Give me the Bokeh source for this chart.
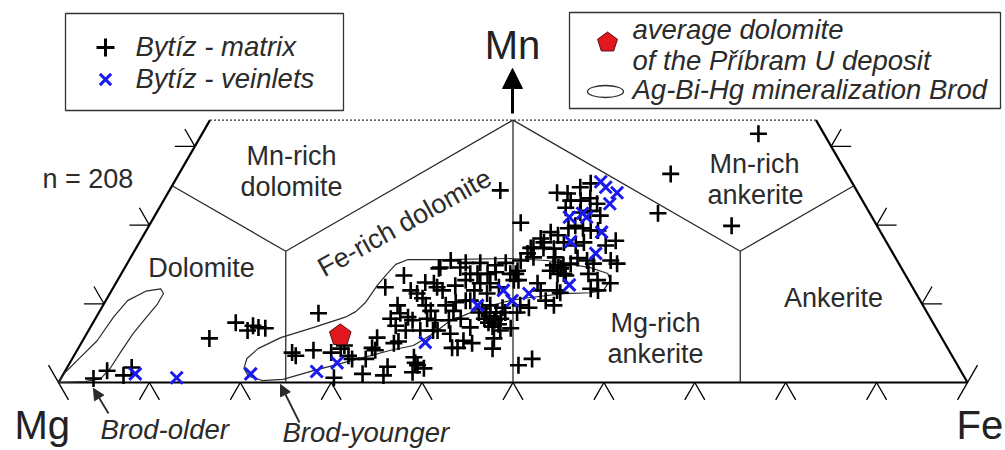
import math
from bokeh.plotting import figure
from bokeh.models import Range1d, Arrow, NormalHead
from bokeh.core.properties import value
from bokeh.embed import file_html
from bokeh.resources import INLINE

# ---------------- data (mol. % Fe and Mn; Mg = 100 - Fe - Mn) ----------------
matrix_fe = [3.6, 4.6, 6.7, 7.1, 13.8, 15.7, 17.5, 17.8, 18.5, 19.3,
             24.2, 23.8, 24.4, 26.0, 28.1, 28.9, 29.1, 30.2, 30.8, 30.0,
             32.9, 32.3, 32.2, 32.8, 35.3, 35.2, 34.8, 29.9, 31.2, 32.4,
             34.3, 35.0, 32.5, 33.2, 33.8, 34.7, 34.0, 36.5, 37.5, 35.6,
             34.6, 37.5, 38.0, 38.4, 39.3, 37.9, 38.3, 34.4, 34.7, 36.9,
             35.0, 36.4, 38.6, 38.9, 38.4, 40.0, 41.1, 41.9, 41.8, 43.0,
             45.1, 45.6, 45.3, 46.3, 41.7, 38.4, 39.2, 40.3, 41.1, 40.1,
             41.2, 42.4, 42.8, 41.5, 44.1, 41.9, 42.6, 43.3, 44.0, 43.5,
             43.7, 42.8, 44.2, 44.6, 41.8, 44.7, 42.6, 44.7, 35.4, 37.2,
             38.8, 40.6, 41.6, 39.9, 39.6, 37.7, 35.5, 45.9, 47.0, 46.0,
             43.4, 44.8, 43.4, 44.3, 46.7, 47.7, 48.1, 46.4, 49.0, 49.0,
             43.4, 44.1, 43.1, 50.6, 49.5, 40.7, 36.4, 42.8, 44.0, 45.0,
             45.9, 44.8, 45.9, 46.8, 47.9, 44.7, 49.0, 46.9, 47.9, 48.9,
             49.7, 46.3, 52.3, 44.6, 45.6, 43.9, 44.5, 43.7, 46.0, 46.7,
             48.9, 49.2, 50.4, 51.3, 53.0, 53.9, 47.0, 48.0, 48.7, 48.0,
             47.0, 51.4, 48.8, 52.8, 54.4, 52.6, 53.5, 49.5, 43.4, 43.6,
             46.6, 47.6, 51.5, 54.1, 55.2, 61.2, 64.1, 48.4, 49.6, 34.9,
             36.5, 36.4, 39.0, 40.2, 40.1, 37.5, 38.3, 32.9, 33.5, 32.3,
             48.2, 47.2]
matrix_mn = [0.5, 1.5, 0.9, 1.9, 5.6, 7.6, 6.6, 7.2, 7.0, 6.9,
             8.8, 3.8, 3.4, 4.1, 3.8, 4.3, 4.7, 3.4, 3.0, 0.6,
             1.1, 4.4, 5.7, 4.1, 0.9, 2.0, 5.2, 12.1, 13.6, 9.8,
             8.3, 7.9, 8.1, 8.8, 11.3, 10.7, 12.7, 8.1, 7.9, 12.1,
             14.5, 3.2, 2.5, 2.2, 1.8, 6.6, 1.3, 5.0, 14.6, 14.6,
             12.6, 11.7, 10.2, 9.1, 6.6, 6.2, 4.4, 5.3, 7.0, 5.0,
             5.6, 4.3, 6.6, 6.9, 4.4, 13.8, 13.8, 13.8, 14.0, 12.6,
             12.6, 12.1, 13.8, 11.3, 9.5, 9.4, 8.9, 8.4, 7.9, 7.6,
             8.9, 8.1, 7.1, 8.1, 8.9, 7.4, 9.8, 8.9, 15.5, 15.2,
             15.2, 14.9, 15.2, 11.7, 10.4, 9.8, 9.8, 9.8, 9.5, 8.9,
             17.1, 17.1, 16.4, 15.9, 15.9, 14.6, 14.9, 12.6, 11.7, 13.6,
             14.2, 13.0, 15.5, 3.0, 2.2, 20.3, 24.4, 24.1, 24.0, 24.8,
             25.3, 23.1, 23.1, 23.4, 22.7, 22.2, 21.2, 19.9, 19.6, 19.3,
             19.3, 19.6, 18.0, 19.1, 18.7, 18.3, 17.8, 17.1, 17.0, 17.8,
             17.8, 15.8, 15.5, 15.1, 15.5, 15.1, 14.9, 14.5, 13.8, 13.8,
             14.2, 13.8, 15.1, 13.0, 12.6, 11.9, 11.7, 11.4, 13.8, 13.0,
             21.6, 21.8, 17.4, 26.5, 21.5, 31.6, 19.9, 10.4, 9.8, 6.6,
             6.6, 9.1, 7.9, 8.1, 10.4, 12.3, 13.0, 11.7, 7.2, 3.0,
             17.4, 11.7]

veinlet_fe = [7.9, 12.7, 20.6, 27.7, 29.4, 37.8, 41.2, 43.1, 44.7, 46.1, 50.0,
              46.9, 47.8, 49.4, 49.3, 45.7, 46.9, 47.6, 50.2, 47.4, 50.9]
veinlet_mn = [1.1, 0.6, 1.1, 1.4, 2.5, 5.1, 9.8, 11.7, 10.4, 11.3, 12.4,
              25.5, 24.8, 24.1, 22.7, 21.0, 21.5, 21.0, 19.1, 17.9, 16.4]

avg_fe = [28.0]
avg_mn = [6.0]

older_fe = [0.0, 0.1, 0.8, 1.6, 1.9, 2.4, 3.8, 5.3, 5.9, 5.9, 5.5, 5.1, 4.9, 4.8, 4.4, 2.9]
older_mn = [0.0, 1.3, 3.2, 5.3, 8.3, 10.4, 11.6, 11.9, 11.3, 10.0, 8.1, 6.2, 3.8, 1.9, 0.5, 0.1]

younger_fe = [19.5, 20.5, 22.3, 24.5, 27.3, 29.8, 32.0, 34.5, 36.7, 38.1, 39.2, 40.3,
              41.3, 43.3, 44.8, 46.5, 49.9, 52.8, 54.1, 54.2, 53.5, 51.2, 46.0, 41.8,
              34.2, 30.6, 29.6, 29.2, 28.9, 28.7, 28.2, 27.4, 24.6, 21.6, 19.8, 19.2]
younger_mn = [1.8, 0.8, 0.25, 0.4, 1.5, 2.4, 3.2, 4.1, 4.7, 6.2, 7.9, 8.5,
              9.15, 10.0, 10.5, 10.8, 11.3, 11.4, 11.7, 13.0, 13.85, 14.6, 15.5, 15.75,
              15.6, 15.6, 15.0, 13.6, 12.3, 10.2, 9.0, 8.3, 7.0, 5.7, 4.3, 3.05]

# field boundaries (Fe, Mn)
field_fe = [0.0, 100 / 6, 100 / 3, 200 / 3, 75.0]
field_mn = [25.0, 100 / 6, 100 / 3, 100 / 6, 25.0]
drop_fe = [100 / 6, 100 / 3, 200 / 3]
drop_mn = [100 / 6, 100 / 3, 100 / 6]
mn_max = 100 / 3
base_ticks = [10, 20, 30, 40, 50, 60, 70, 80, 90]
side_ticks = [10, 20, 30]

# ---------------- geometry ----------------
H = math.sqrt(3) / 2
K = 9.09          # pixels per composition unit
OX, OY = 58, 382  # pixel position of the Mg corner


def tx(fe, mn):
    return fe + mn / 2.0


def ty(mn):
    return mn * H


def sx(px):
    return (px - OX) / K


def sy(py):
    return (OY - py) / K


p = figure(width=1005, height=450,
           x_range=Range1d(sx(0), sx(1005)), y_range=Range1d(sy(450), sy(0)),
           toolbar_location=None, output_backend="svg",
           x_axis_type=None, y_axis_type=None, min_border=0,
           outline_line_color=None, background_fill_color="white",
           border_fill_color="white")

INK = "#2b2b2b"
FONT = value("Liberation Sans")

# outer frame: bottom, left, right solid; top dotted
p.line([tx(0, 0), tx(100, 0)], [0, 0], line_color="black", line_width=2.2)
p.line([tx(0, 0), tx(0, mn_max)], [0, ty(mn_max)], line_color="black", line_width=2.2)
p.line([tx(100, 0), tx(100 - mn_max, mn_max)], [0, ty(mn_max)], line_color="black", line_width=2.2)
p.line([tx(0, mn_max), tx(100 - mn_max, mn_max)], [ty(mn_max)] * 2,
       line_color="#333333", line_width=1.2, line_dash="2 2")

# field boundaries
p.line([tx(f, m) for f, m in zip(field_fe, field_mn)], [ty(m) for m in field_mn],
       line_color=INK, line_width=1.3)
p.multi_line([[tx(f, m), tx(f, m)] for f, m in zip(drop_fe, drop_mn)],
             [[ty(m), 0] for m in drop_mn], line_color=INK, line_width=1.3)

# ticks
L = 2.2
c60, s60 = 0.5, H
txs, tys = [], []
for t in base_ticks:
    txs += [[t - L * c60, t, t + L * c60]]
    tys += [[-L * s60, 0, -L * s60]]
for t in side_ticks:
    x0, y0 = tx(0, t), ty(t)
    txs += [[x0 - L, x0, x0 - L * c60]]
    tys += [[y0, y0, y0 + L * s60]]
    x1, y1 = tx(100 - t, t), ty(t)
    txs += [[x1 + L, x1, x1 + L * c60]]
    tys += [[y1, y1, y1 + L * s60]]
# corner marks
txs += [[-L * c60, L * c60]]
tys += [[L * s60, -L * s60]]
txs += [[100 + L * c60, 100 - L * c60]]
tys += [[L * s60, -L * s60]]
p.multi_line(txs, tys, line_color="black", line_width=1.3)

# Ag-Bi-Hg mineralization outlines
p.patch([tx(f, m) for f, m in zip(older_fe, older_mn)], [ty(m) for m in older_mn],
        fill_color=None, line_color=INK, line_width=1.2)
p.patch([tx(f, m) for f, m in zip(younger_fe, younger_mn)], [ty(m) for m in younger_mn],
        fill_color=None, line_color=INK, line_width=1.2)

# data points
p.scatter([tx(f, m) for f, m in zip(matrix_fe, matrix_mn)], [ty(m) for m in matrix_mn],
          marker="cross", size=17, line_width=2.6, line_color="black")
p.scatter([tx(f, m) for f, m in zip(veinlet_fe, veinlet_mn)], [ty(m) for m in veinlet_mn],
          marker="x", size=17, line_width=3, line_color="#1a1aee")


def pentagon(cx, cy, r):
    xs = [cx + r * math.cos(math.radians(90 + 72 * k)) for k in range(5)]
    ys = [cy + r * math.sin(math.radians(90 + 72 * k)) for k in range(5)]
    return xs, ys


px_, py_ = pentagon(tx(avg_fe[0], avg_mn[0]), ty(avg_mn[0]), 1.25)
p.patch(px_, py_, fill_color="#e3171e", line_color="#5a1010", line_width=1)


# ---------------- texts ----------------
def label(x_px, y_px, s, size, style="normal", align="center", angle=0.0, color=INK):
    # y_px is the wanted baseline; the renderer puts the alphabetic baseline ~0.4 em lower
    p.text([sx(x_px)], [sy(y_px - 0.4 * size)], text=[s], text_font=FONT,
           text_font_size=value(f"{size}px"), text_font_style=style,
           text_align=align, text_baseline="alphabetic", angle=angle, text_color=color)


label(291, 166, "Mn-rich", 27)
label(291, 197, "dolomite", 27)
label(201, 278, "Dolomite", 27)
label(404, 233, "Fe-rich dolomite", 27, angle=math.radians(29))
label(754, 174, "Mn-rich", 27)
label(755, 205, "ankerite", 27)
label(655, 333, "Mg-rich", 27)
label(655, 364, "ankerite", 27)
label(833, 308, "Ankerite", 27)
label(42, 189, "n = 208", 27, align="left")

label(14, 440, "Mg", 40, align="left", color="#222222")
label(956, 440, "Fe", 40, align="left", color="#222222")
label(512, 60, "Mn", 40, color="#222222")
label(100, 440, "Brod-older", 27.5, style="italic", align="left")
label(282, 443, "Brod-younger", 27.5, style="italic", align="left")

# Mn arrow
p.add_layout(Arrow(end=NormalHead(size=20, fill_color="black", line_color="black"),
                   x_start=sx(512), y_start=sy(113), x_end=sx(512), y_end=sy(68),
                   line_width=3, line_color="black"))
# pointer arrows
for (x0, y0, x1, y1) in [(108, 413, 93, 388), (299, 422, 280, 384)]:
    p.add_layout(Arrow(end=NormalHead(size=11, fill_color=INK, line_color=INK),
                       x_start=sx(x0), y_start=sy(y0), x_end=sx(x1), y_end=sy(y1),
                       line_width=1.8, line_color=INK))

# legend boxes
p.quad(left=[sx(65)], right=[sx(343)], top=[sy(13)], bottom=[sy(110)],
       fill_color="white", line_color="#333333", line_width=1.3)
p.quad(left=[sx(569)], right=[sx(1000)], top=[sy(12)], bottom=[sy(108)],
       fill_color="white", line_color="#333333", line_width=1.3)

p.scatter([sx(105)], [sy(47)], marker="cross", size=18, line_width=3, line_color="black")
p.scatter([sx(105)], [sy(79)], marker="x", size=16, line_width=3, line_color="#1a1aee")
label(135, 57, "Bytíz - matrix", 27.5, style="italic", align="left")
label(135, 89, "Bytíz - veinlets", 27.5, style="italic", align="left")

lx, ly = pentagon(sx(607), sy(42), 1.15)
p.patch(lx, ly, fill_color="#e3171e", line_color="#5a1010", line_width=1)
p.ellipse([sx(605)], [sy(91)], width=[36 / K], height=[12 / K],
          fill_color=None, line_color=INK, line_width=1.3)
label(632, 40, "average dolomite", 27.5, style="italic", align="left")
label(632, 71, "of the Příbram U deposit", 27.5, style="italic", align="left")
label(632, 100, "Ag-Bi-Hg mineralization Brod", 27.5, style="italic", align="left")

open("out.html", "w").write(file_html(p, INLINE))
